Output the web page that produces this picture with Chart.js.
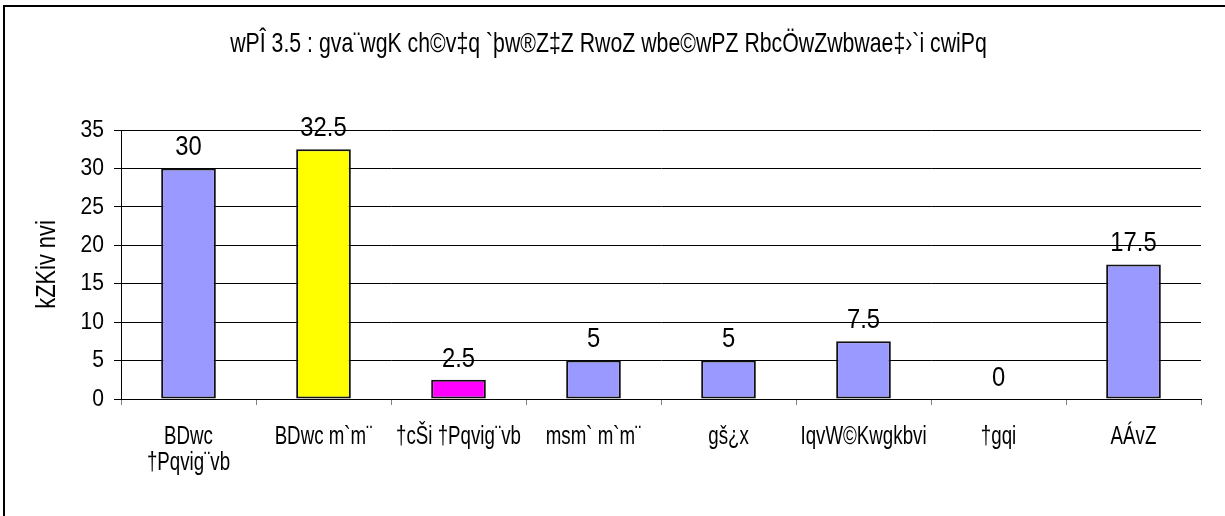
<!DOCTYPE html>
<html>
<head>
<meta charset="utf-8">
<script src="https://cdn.jsdelivr.net/npm/chart.js@4.4.0/dist/chart.umd.min.js"></script>
<style>
  html, body { margin: 0; padding: 0; background: #fff; overflow: hidden; }
  #wrap { position: relative; width: 1225px; height: 516px; }
</style>
</head>
<body>
<div id="wrap"><canvas id="chart" width="1225" height="516"></canvas></div>
<script>
// chart text (SutonnyMJ-encoded Bengali, kept as it appears)
const titleText = "wPÎ 3.5 : gva¨wgK ch©v‡q `þw®Z‡Z RwoZ wbe©wPZ RbcÖwZwbwae‡›`i cwiPq";
const yTitle = "kZKiv nvi";

// categories and values
const categories = [["BDwc", "†Pqvig¨vb"], "BDwc m`m¨", "†cŠi †Pqvig¨vb", "msm` m`m¨", "gš¿x", "IqvW©Kwgkbvi", "†gqi", "AÁvZ"];
const values = [30, 32.5, 2.5, 5, 5, 7.5, 0, 17.5];
const barColors = ["#9999FF", "#FFFF00", "#FF00FF", "#9999FF", "#9999FF", "#9999FF", "#9999FF", "#9999FF"];
const yTicks = [0, 5, 10, 15, 20, 25, 30, 35];

// the original uses a narrow face, so text is squeezed horizontally
const fam = "'Liberation Sans', Arial, sans-serif";

function narrowText(c, text, x, y, align, size, squeeze, rot) {
  c.save();
  c.translate(x, y);
  if (rot) c.rotate(rot);
  c.scale(squeeze, 1);
  c.font = size + "px " + fam;
  c.fillStyle = "#000";
  c.textAlign = align;
  c.textBaseline = "middle";
  c.fillText(text, 0, 0);
  c.restore();
}

// left/top frame of the original chart box
const framePlugin = {
  id: "frame",
  beforeDraw(chart) {
    const c = chart.ctx;
    c.save();
    c.fillStyle = "#fff";
    c.fillRect(0, 0, chart.width, chart.height);
    c.strokeStyle = "#000";
    c.lineWidth = 2;
    c.beginPath();
    c.moveTo(4, chart.height);
    c.lineTo(4, 6);
    c.lineTo(chart.width, 6);
    c.stroke();
    c.restore();
  }
};

// title, axis labels and bar value labels
const textPlugin = {
  id: "texts",
  afterDraw(chart) {
    const c = chart.ctx;
    const xs = chart.scales.x;
    const ys = chart.scales.y;
    const area = chart.chartArea;

    narrowText(c, titleText, chart.width / 2 - 4, 44, "center", 28, 0.76);
    narrowText(c, yTitle, 47, (area.top + area.bottom) / 2, "center", 28, 0.78, -Math.PI / 2);

    yTicks.forEach((v) => {
      narrowText(c, String(v), ys.left + ys.width - 17, ys.getPixelForValue(v), "right", 24.5, 0.86);
    });

    categories.forEach((lab, i) => {
      const lines = Array.isArray(lab) ? lab : [lab];
      const x = xs.getPixelForValue(i);
      lines.forEach((ln, k) => {
        narrowText(c, ln, x, area.bottom + 38 + k * 26, "center", 26, 0.72);
      });
    });

    const meta = chart.getDatasetMeta(0);
    meta.data.forEach((bar, i) => {
      narrowText(c, String(values[i]), bar.x, bar.y - 21, "center", 28, 0.85);
    });
  }
};

const ctx = document.getElementById("chart").getContext("2d");

new Chart(ctx, {
  type: "bar",
  data: {
    labels: categories,
    datasets: [
      {
        data: values,
        backgroundColor: barColors,
        borderColor: "#111",
        borderWidth: 2,
        borderSkipped: false,
        barPercentage: 0.9,
        categoryPercentage: 0.45,
      },
    ],
  },
  options: {
    responsive: false,
    animation: false,
    layout: { padding: { left: 0, right: 0, top: 130, bottom: 0 } },
    plugins: {
      legend: { display: false },
      tooltip: { enabled: false },
      title: { display: false },
    },
    scales: {
      x: {
        ticks: { display: false },
        grid: { offset: true, drawOnChartArea: false, drawTicks: true, tickLength: 6, color: "#808080" },
        border: { color: "#000", width: 1 },
        afterFit: (s) => { s.height = 117; },
      },
      y: {
        min: yTicks[0],
        max: yTicks[yTicks.length - 1],
        ticks: { display: false, stepSize: yTicks[1] - yTicks[0] },
        grid: { color: "#000", lineWidth: 1, tickLength: 7 },
        border: { color: "#000", width: 1 },
        afterFit: (s) => { s.width = 121; },
      },
      y2: {
        position: "right",
        display: true,
        grid: { display: false },
        border: { display: false },
        ticks: { display: false },
        afterFit: (s) => { s.width = 24; },
      },
    },
  },
  plugins: [framePlugin, textPlugin],
});
</script>
</body>
</html>
